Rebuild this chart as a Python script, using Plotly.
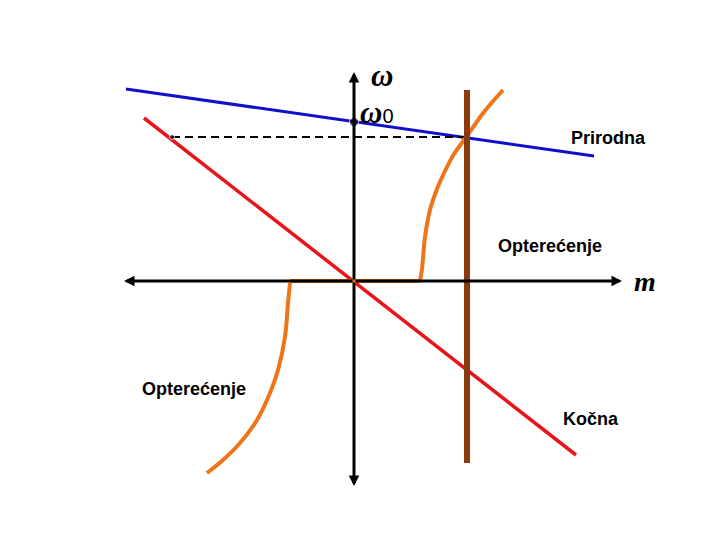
import plotly.graph_objects as go

# Coordinates: m (torque) horizontal, omega (speed) vertical; origin at axes crossing
axis_m = [-230, 268]          # horizontal axis extent (left tip, right tip)
axis_w = [-205, 209]          # vertical axis extent (bottom tip, top tip)

prirodna_m = [-228, 240]
prirodna_w = [192, 125]

kocna_m = [-210, 222]
kocna_w = [163, -174]

brown_m = [113, 113]
brown_w = [191, -182]

dash_m = [-182, 113]
dash_w = [144, 144]

omega0 = 159

load_up_m = [66, 68, 71, 76, 83, 91, 100, 113, 130, 149]
load_up_w = [0, 12, 44, 71, 92, 110, 127, 145, 169, 191]

load_flat_m = [-64, 66]
load_flat_w = [0, 0]

load_low_m = [-64, -66, -69, -76, -84, -97, -114, -131, -147]
load_low_w = [-2, -22, -56, -89, -112, -139, -162, -179, -192]

fig = go.Figure()

def line(xs, ys, color, width, dash=None, shape="linear"):
    fig.add_trace(go.Scatter(x=xs, y=ys, mode="lines",
                             line=dict(color=color, width=width, dash=dash, shape=shape),
                             hoverinfo="skip", showlegend=False))

line(prirodna_m, prirodna_w, "#1010CC", 3)
line(dash_m, dash_w, "black", 2, dash="8px,5px")
line(kocna_m, kocna_w, "#E8141B", 3.5)
line(load_flat_m, load_flat_w, "#F07418", 4)
line(load_up_m, load_up_w, "#F07418", 4, shape="spline")
line(load_low_m, load_low_w, "#F07418", 4, shape="spline")
line(brown_m, brown_w, "#8B3A10", 6)

# points
fig.add_trace(go.Scatter(x=[0, dash_m[0]], y=[omega0, dash_w[0]], mode="markers",
                         marker=dict(color="black", size=[9, 5]),
                         hoverinfo="skip", showlegend=False))

ann = []
# axes with arrows
for (x, y) in [(axis_m[1], 0), (axis_m[0], 0), (0, axis_w[1]), (0, axis_w[0])]:
    ann.append(dict(x=x, y=y, ax=0, ay=0, xref="x", yref="y", axref="x", ayref="y",
                    showarrow=True, arrowhead=2, arrowsize=0.7, arrowwidth=3,
                    arrowcolor="black", text=""))

serif = "Liberation Serif"
sans = "Liberation Sans"
labels = [
    ("<i><b>ω</b></i>", 28, 206, serif, 31),
    ("<i><b>ω</b></i><span style='font-family:Liberation Sans;font-size:20px'>0</span>",
     23, 169, serif, 31),
    ("<i><b>m</b></i>", 291, 0, serif, 28),
    ("<b>Prirodna</b>", 254, 143, sans, 18),
    ("<b>Opterećenje</b>", 196, 35, sans, 18),
    ("<b>Opterećenje</b>", -160, -108, sans, 18),
    ("<b>Kočna</b>", 237, -138, sans, 18),
]
for t, x, y, f, s in labels:
    ann.append(dict(x=x, y=y, xref="x", yref="y", text=t, showarrow=False,
                    font=dict(family=f, size=s, color="black")))

# page body has an 8px margin, so shift ranges to place the origin correctly
fig.update_layout(
    width=720, height=540,
    margin=dict(l=0, r=0, t=0, b=0),
    paper_bgcolor="white", plot_bgcolor="white",
    xaxis=dict(range=[-346, 374], visible=False, fixedrange=True),
    yaxis=dict(range=[-267, 273], visible=False, fixedrange=True),
    annotations=ann,
)

fig.write_html("out.html")
